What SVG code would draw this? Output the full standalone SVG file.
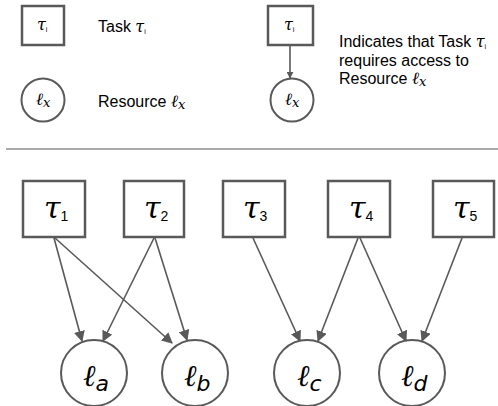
<svg xmlns="http://www.w3.org/2000/svg" width="498" height="406" viewBox="0 0 498 406">
  <style>
    .box { fill: #ffffff; stroke: #595959; stroke-width: 2.5; }
    .res { fill: #ffffff; stroke: #595959; stroke-width: 2; }
    .edge { stroke: #595959; stroke-width: 1.6; fill: none; marker-end: url(#arrow); }
    .label { font-family: "Liberation Sans", Arial, sans-serif; font-size: 16px; fill: #000000; }
    .sym { font-family: "DejaVu Serif", "Liberation Serif", serif; font-style: italic; fill: #000000; }
    .sub { font-family: "Liberation Sans", Arial, sans-serif; font-style: normal; fill: #000000; }
    .subi { font-family: "DejaVu Sans", "Liberation Sans", sans-serif; font-style: italic; fill: #000000; }
  </style>
  <defs>
    <marker id="arrow" viewBox="0 0 10 10" refX="9" refY="5" markerWidth="7" markerHeight="7" markerUnits="userSpaceOnUse" orient="auto">
      <path d="M0,0 L10,5 L0,10 Z" fill="#595959"/>
    </marker>
    <marker id="arrowBig" viewBox="0 0 10 10" refX="9" refY="5" markerWidth="11" markerHeight="11" markerUnits="userSpaceOnUse" orient="auto">
      <path d="M0,0 L10,5 L0,10 Z" fill="#595959"/>
    </marker>
  </defs>

  <!-- Legend -->
  <g id="legend-task">
    <rect class="box" x="22" y="6" width="42" height="39"/>
    <text class="sym" x="37" y="30" font-size="16">τ<tspan class="sub" font-size="7" dy="2">i</tspan></text>
    <text class="label" x="98" y="32">Task <tspan class="sym" font-size="16">τ</tspan><tspan class="sub" font-size="7" dy="2">i</tspan></text>
  </g>
  <g id="legend-resource">
    <circle class="res" cx="43" cy="100" r="21.5"/>
    <text class="sym" x="36" y="105" font-size="17">ℓ<tspan font-size="13" dy="2">x</tspan></text>
    <text class="label" x="98" y="107">Resource <tspan class="sym" font-size="17">ℓ</tspan><tspan class="sym" font-size="13" dy="2">x</tspan></text>
  </g>
  <g id="legend-edge">
    <rect class="box" x="268" y="6" width="45" height="39"/>
    <text class="sym" x="284" y="30" font-size="16">τ<tspan class="sub" font-size="7" dy="2">i</tspan></text>
    <circle class="res" cx="292" cy="100" r="21.5"/>
    <text class="sym" x="285" y="105" font-size="17">ℓ<tspan font-size="13" dy="2">x</tspan></text>
    <line class="edge" x1="290" y1="45" x2="290" y2="78"/>
    <text class="label" x="339" y="47">Indicates that Task <tspan class="sym" font-size="16">τ</tspan><tspan class="sub" font-size="7" dy="2">i</tspan></text>
    <text class="label" x="339" y="66">requires access to</text>
    <text class="label" x="339" y="84">Resource <tspan class="sym" font-size="17">ℓ</tspan><tspan class="sym" font-size="13" dy="2">x</tspan></text>
  </g>

  <!-- Divider -->
  <line x1="6" y1="149" x2="498" y2="149" stroke="#aaaaaa" stroke-width="2"/>

  <!-- Tasks -->
  <g id="task1">
    <rect class="box" x="23" y="181" width="62" height="56"/>
    <text class="sym" x="44" y="218" font-size="30">τ<tspan class="sub" font-size="14" dy="3">1</tspan></text>
  </g>
  <g id="task2">
    <rect class="box" x="124" y="181" width="60" height="56"/>
    <text class="sym" x="144" y="218" font-size="30">τ<tspan class="sub" font-size="14" dy="3">2</tspan></text>
  </g>
  <g id="task3">
    <rect class="box" x="223" y="181" width="62" height="56"/>
    <text class="sym" x="243" y="218" font-size="30">τ<tspan class="sub" font-size="14" dy="3">3</tspan></text>
  </g>
  <g id="task4">
    <rect class="box" x="328" y="181" width="62" height="56"/>
    <text class="sym" x="349" y="218" font-size="30">τ<tspan class="sub" font-size="14" dy="3">4</tspan></text>
  </g>
  <g id="task5">
    <rect class="box" x="433" y="181" width="61" height="56"/>
    <text class="sym" x="453" y="218" font-size="30">τ<tspan class="sub" font-size="14" dy="3">5</tspan></text>
  </g>

  <!-- Resources -->
  <g id="res-a">
    <circle class="res" cx="94" cy="373" r="33"/>
    <text class="sym" x="83" y="386" font-size="30">ℓ<tspan class="subi" font-size="22" dy="5">a</tspan></text>
  </g>
  <g id="res-b">
    <circle class="res" cx="195" cy="373" r="33"/>
    <text class="sym" x="184" y="386" font-size="30">ℓ<tspan class="subi" font-size="22" dy="5">b</tspan></text>
  </g>
  <g id="res-c">
    <circle class="res" cx="307" cy="373" r="33"/>
    <text class="sym" x="297" y="386" font-size="30">ℓ<tspan class="subi" font-size="22" dy="5">c</tspan></text>
  </g>
  <g id="res-d">
    <circle class="res" cx="412" cy="373" r="33"/>
    <text class="sym" x="401" y="386" font-size="30">ℓ<tspan class="subi" font-size="22" dy="5">d</tspan></text>
  </g>

  <!-- Connectors -->
  <g id="edges">
    <line class="edge" style="marker-end:url(#arrowBig)" x1="54" y1="238" x2="82" y2="341"/>
    <line class="edge" style="marker-end:url(#arrowBig)" x1="55" y1="238" x2="172" y2="343"/>
    <line class="edge" style="marker-end:url(#arrowBig)" x1="154" y1="238" x2="103" y2="341"/>
    <line class="edge" style="marker-end:url(#arrowBig)" x1="155" y1="238" x2="187" y2="340"/>
    <line class="edge" style="marker-end:url(#arrowBig)" x1="253" y1="238" x2="300" y2="341"/>
    <line class="edge" style="marker-end:url(#arrowBig)" x1="358" y1="238" x2="318" y2="341"/>
    <line class="edge" style="marker-end:url(#arrowBig)" x1="360" y1="238" x2="406" y2="341"/>
    <line class="edge" style="marker-end:url(#arrowBig)" x1="462" y1="238" x2="422" y2="341"/>
  </g>
</svg>
